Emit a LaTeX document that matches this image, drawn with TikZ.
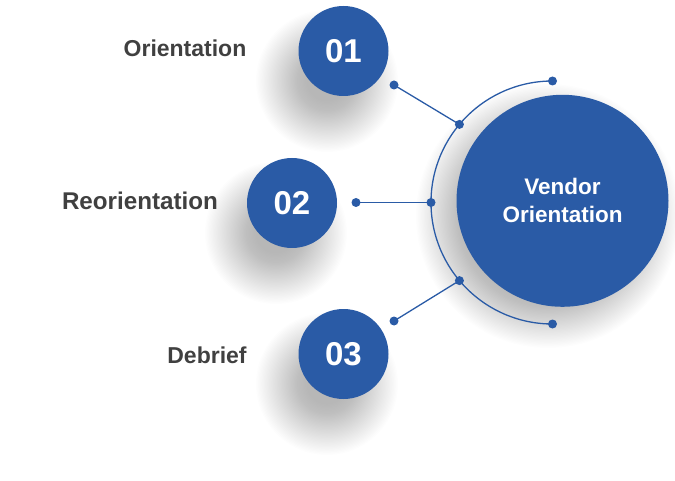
\documentclass[tikz,border=0pt]{standalone}
\usepackage{fontspec}
\setmainfont{Liberation Sans}
\definecolor{vblue}{HTML}{2A5BA6}
\definecolor{vgray}{HTML}{404040}
% soft shadow: centre x, centre y, radius, blur
\newcommand{\softshade}[4]{%
  \foreach \k in {0,...,39}{%
    \fill[black, opacity=0.0085] (#1,#2) circle ({#3+#4-\k*#4/20});
  }%
}
\begin{document}
\begin{tikzpicture}[x=1pt,y=1pt,
  numcircle/.style={circle, fill=vblue, minimum size=90pt, inner sep=0pt, text=white,
    font=\fontsize{33}{33}\selectfont\bfseries},
  bigcircle/.style={circle, fill=vblue, minimum size=212pt, inner sep=0pt, text=white,
    align=center, font=\fontsize{22.5}{28}\selectfont\bfseries},
  label/.style={text=vgray, font=\fontsize{23}{23}\selectfont\bfseries, inner sep=0pt},
  dot/.style={circle, fill=vblue, minimum size=9pt, inner sep=0pt},
  conn/.style={draw=vblue, line width=1.3pt}
]
\useasboundingbox (0,0) rectangle (675,480);
% shadows
\softshade{548}{264}{106}{26}
\softshade{327}{399}{45}{26}
\softshade{276}{247}{45}{26}
\softshade{327}{96}{45}{26}
% main circle
\node[bigcircle] (vc) at (562.5,279.2) {Vendor\\Orientation};
% number circles
\node[numcircle] (n1) at (343.5,429) {01};
\node[numcircle] (n2) at (292,277) {02};
\node[numcircle] (n3) at (343.5,126) {03};
% labels
\node[label] (l1) at (185,432) {Orientation};
\node[label, font=\fontsize{24.2}{24}\selectfont\bfseries] (l2) at (140,279) {Reorientation};
\node[label] (l3) at (207,125) {Debrief};
% arc and dots
\coordinate (ac) at (552.5,277.5);
\node[dot] (e1) at (552.5,399) {};
\node[dot] (e2) at (552.5,156) {};
\draw[conn] (e1.center) arc[start angle=90, end angle=270, radius=121.5];
\node[dot] (a1) at ([shift={(ac)}]140:121.5) {};
\node[dot] (a2) at ([shift={(ac)}]180:121.5) {};
\node[dot] (a3) at ([shift={(ac)}]220:121.5) {};
\node[dot] (d1) at (394,395) {};
\node[dot] (d2) at (356,277.5) {};
\node[dot] (d3) at (394,159) {};
\draw[conn] (d1.center) -- (a1.center);
\draw[conn] (d2.center) -- (a2.center);
\draw[conn] (d3.center) -- (a3.center);
\end{tikzpicture}
\end{document}
